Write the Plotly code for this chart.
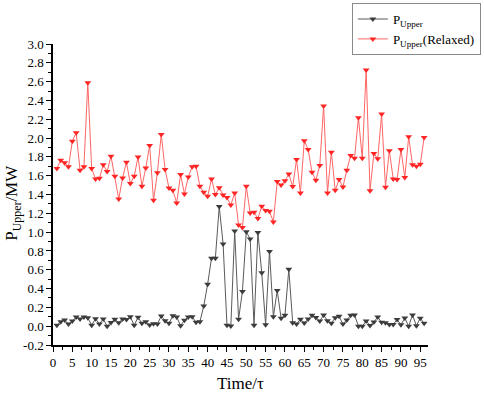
import plotly.graph_objects as go

time = list(range(1, 97))

p_upper = [0.01, 0.048, 0.066, 0.023, 0.055, 0.098, 0.077, 0.098, 0.09, 0.01,
           0.08, 0.023, 0.077, 0.0, 0.04, 0.073, 0.037, 0.077, 0.07, 0.1,
           0.01, 0.095, 0.03, 0.048, 0.013, 0.027, 0.023, 0.108, 0.059, 0.03,
           0.112, 0.098, 0.005, 0.063, 0.098, 0.1, 0.041, 0.048, 0.215, 0.446,
           0.723, 0.723, 1.272, 0.875, 0.01, 0.002, 1.013, 0.075, 0.37, 1.003,
           0.928, 0.01, 0.995, 0.567, 0.015, 0.795, 0.1, 0.379, 0.084, 0.117,
           0.606, 0.037, 0.023, 0.075, 0.034, 0.077, 0.115, 0.092, 0.054, 0.119,
           0.059, 0.031, 0.09, 0.105, 0.023, 0.066, 0.115, 0.119, 0.0, 0.0,
           0.055, 0.008, 0.045, 0.097, 0.043, 0.037, 0.018, 0.018, 0.07, 0.015,
           0.087, 0.0, 0.119, 0.005, 0.085, 0.03]

p_relaxed = [1.676, 1.765, 1.737, 1.694, 1.967, 2.056, 1.658, 1.694, 2.589, 1.676,
             1.566, 1.573, 1.715, 1.644, 1.807, 1.594, 1.353, 1.576, 1.743, 1.516,
             1.594, 1.80, 1.487, 1.683, 1.921, 1.338, 1.63, 2.038, 1.665, 1.470,
             1.445, 1.310, 1.612, 1.406, 1.587, 1.694, 1.700, 1.487, 1.423, 1.381,
             1.566, 1.399, 1.473, 1.395, 1.367, 1.289, 1.417, 1.075, 1.05, 1.487,
             1.203, 1.210, 1.146, 1.274, 1.231, 1.221, 1.108, 1.537, 1.502, 1.545,
             1.619, 1.484, 1.772, 1.417, 1.971, 1.878, 1.637, 1.552, 1.708, 2.340,
             1.417, 1.850, 1.445, 1.559, 1.481, 1.658, 1.815, 1.786, 2.216, 1.786,
             2.724, 1.441, 1.836, 1.779, 2.255, 1.477, 1.864, 1.566, 1.559, 1.878,
             1.580, 2.014, 1.715, 1.700, 1.722, 2.006]

x_ticks = list(range(0, 96, 5))
y_ticks = [round(-0.2 + 0.2 * i, 1) for i in range(17)]

FONT = "Liberation Serif"

fig = go.Figure()
fig.add_trace(go.Scatter(
    x=time, y=p_upper, mode="lines+markers", name="P<sub>Upper</sub>",
    line=dict(color="#5a5a5a", width=1),
    marker=dict(symbol="triangle-down", size=6, color="#3c3c3c"),
))
fig.add_trace(go.Scatter(
    x=time, y=p_relaxed, mode="lines+markers", name="P<sub>Upper</sub>(Relaxed)",
    line=dict(color="#ff6666", width=1),
    marker=dict(symbol="triangle-down", size=6, color="#ff2525"),
))

fig.update_layout(
    width=484, height=394,
    margin=dict(l=53, r=56, t=44, b=49, autoexpand=False),
    paper_bgcolor="white", plot_bgcolor="white",
    font=dict(family=FONT, size=13, color="black"),
    showlegend=True,
    legend=dict(
        x=1.141, y=1.136, xanchor="right", yanchor="top",
        bordercolor="#8a8a8a", borderwidth=1, bgcolor="white",
        font=dict(family=FONT, size=13, color="black"),
        tracegroupgap=0, itemwidth=30,
    ),
    xaxis=dict(
        range=[0, 97], tickmode="array", tickvals=x_ticks,
        ticktext=[str(v) for v in x_ticks],
        showline=True, linecolor="black", linewidth=1.5,
        ticks="outside", ticklen=5, tickwidth=1.2, tickcolor="black",
        minor=dict(tickmode="linear", tick0=0, dtick=2.5, ticks="outside",
                   ticklen=3, tickwidth=1, tickcolor="black"),
        showgrid=False, zeroline=False,
        tickfont=dict(family=FONT, size=13),
        title=dict(text="Time/τ", font=dict(family=FONT, size=17), standoff=8),
    ),
    yaxis=dict(
        range=[-0.2, 3.0], tickmode="array", tickvals=y_ticks,
        ticktext=[f"{v:.1f}" for v in y_ticks],
        showline=True, linecolor="black", linewidth=1.5,
        ticks="outside", ticklen=5, tickwidth=1.2, tickcolor="black",
        minor=dict(tickmode="linear", tick0=-0.2, dtick=0.1, ticks="outside",
                   ticklen=3, tickwidth=1, tickcolor="black"),
        showgrid=False, zeroline=False,
        tickfont=dict(family=FONT, size=13),
    ),
    annotations=[dict(
        text="P<sub>Upper</sub>/MW", textangle=-90,
        xref="paper", yref="paper", x=-0.107, y=0.472,
        xanchor="center", yanchor="middle", showarrow=False,
        font=dict(family=FONT, size=17, color="black"),
    )],
)

fig.write_html("out.html", config={"displayModeBar": False},
               post_script="document.body.style.margin='0';")
